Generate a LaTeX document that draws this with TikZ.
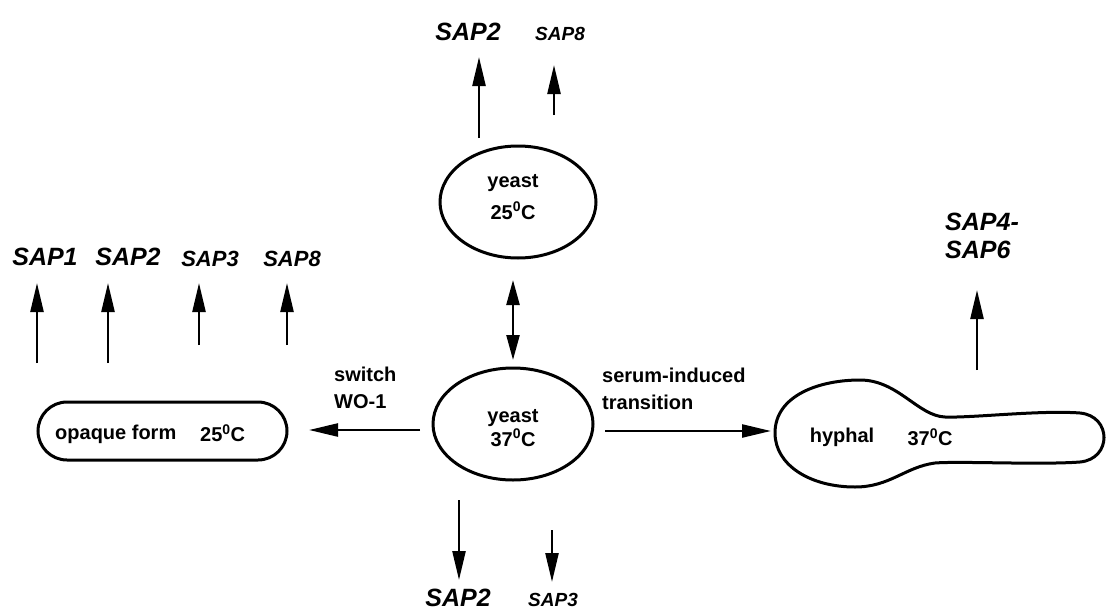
\documentclass[tikz,border=0pt]{standalone}
\usepackage{fontspec}
\setmainfont{Liberation Sans}
\usetikzlibrary{arrows.meta,shapes.geometric}
\begin{document}
\begin{tikzpicture}[x=1pt,y=-1pt,
  sap/.style={font=\fontsize{25}{28}\selectfont\bfseries\itshape, inner sep=0},
  sapsm/.style={font=\fontsize{22}{24}\selectfont\bfseries\itshape, inner sep=0},
  sapxs/.style={font=\fontsize{19}{21}\selectfont\bfseries\itshape, inner sep=0},
  lbl/.style={font=\fontsize{20}{27}\selectfont\bfseries, inner sep=0, align=left},
  celltxt/.style={font=\fontsize{20}{24}\selectfont\bfseries, inner sep=0, align=center},
  arr/.style={line width=2.4pt, -{Triangle[length=29pt,width=13pt]}},
  dblarr/.style={line width=2.4pt, {Triangle[length=25pt,width=13pt]}-{Triangle[length=25pt,width=13pt]}},
  cell/.style={draw, line width=3pt, ellipse, inner sep=0}]
\useasboundingbox (0,0) rectangle (1107,610);

% yeast cells
\node[cell, minimum width=156pt, minimum height=112pt] (y25) at (518,202) {};
\node[celltxt, align=center] (y25t) at (513,197) {yeast\\[8pt]25\textsuperscript{0}C};
\node[cell, minimum width=160pt, minimum height=112pt] (y37) at (513,424) {};
\node[celltxt, align=center] (y37t) at (513,428) {yeast\\37\textsuperscript{0}C};

% opaque form
\node[draw, line width=3pt, rounded corners=29pt, minimum width=249pt, minimum height=58pt, inner sep=0] (opq) at (162.5,431) {};
\node[celltxt, anchor=west] (opqt) at (55,434) {opaque form};
\node[celltxt, anchor=west] (opqt2) at (200,433) {25\textsuperscript{0}C};

% hyphal
\draw[line width=3pt] (775,433) .. controls (775,395) and (820,380) .. (860,380)
  .. controls (898,380) and (918,416) .. (945,417)
  .. controls (972,418) and (1040,410) .. (1080,413)
  .. controls (1112,416) and (1112,459) .. (1080,462)
  .. controls (1040,465) and (960,461) .. (935,463)
  .. controls (905,467) and (890,487) .. (855,487)
  .. controls (810,487) and (775,465) .. (775,433) -- cycle;
\node[celltxt] (hyt) at (842,437) {hyphal};
\node[celltxt] (hyt2) at (930,437) {37\textsuperscript{0}C};

% labels
\node[sap] (tS2) at (468,32) {SAP2};
\node[sapxs] (tS8) at (560,34) {SAP8};
\node[sap] (lS1) at (45,257) {SAP1};
\node[sap] (lS2) at (128,257) {SAP2};
\node[sapsm] (lS3) at (210,259) {SAP3};
\node[sapsm] (lS8) at (292,259) {SAP8};
\node[sap] (bS2) at (458,598) {SAP2};
\node[sapxs] (bS3) at (553,600) {SAP3};
\node[sap, align=left, anchor=north west] (rS46) at (945,213) {SAP4-\\SAP6};

\node[lbl, anchor=west] (sw) at (334,388) {switch\\WO-1};
\node[lbl, anchor=west] (se) at (602,389) {serum-induced\\transition};

% coordinates for arrows
\coordinate (a1) at (479,138); \coordinate (a1t) at (479,57);
\coordinate (a2) at (554,115); \coordinate (a2t) at (554,65);
\coordinate (d1) at (513,280); \coordinate (d2) at (513,360);
\coordinate (l1) at (37,363); \coordinate (l1t) at (37,283);
\coordinate (l2) at (108,363); \coordinate (l2t) at (108,283);
\coordinate (l3) at (199,345); \coordinate (l3t) at (199,283);
\coordinate (l4) at (287,345); \coordinate (l4t) at (287,283);
\coordinate (h1) at (420,430); \coordinate (h1t) at (309,430);
\coordinate (h2) at (605,431); \coordinate (h2t) at (771,431);
\coordinate (b1) at (459,500); \coordinate (b1t) at (459,580);
\coordinate (b2) at (552,530); \coordinate (b2t) at (552,582);
\coordinate (r1) at (977,370); \coordinate (r1t) at (977,290);

\draw[arr] (a1) -- (a1t);
\draw[arr] (a2) -- (a2t);
\draw[dblarr] (d1) -- (d2);
\draw[arr] (l1) -- (l1t);
\draw[arr] (l2) -- (l2t);
\draw[arr] (l3) -- (l3t);
\draw[arr] (l4) -- (l4t);
\draw[arr] (h1) -- (h1t);
\draw[arr] (h2) -- (h2t);
\draw[arr] (b1) -- (b1t);
\draw[arr] (b2) -- (b2t);
\draw[arr] (r1) -- (r1t);
\end{tikzpicture}
\end{document}
